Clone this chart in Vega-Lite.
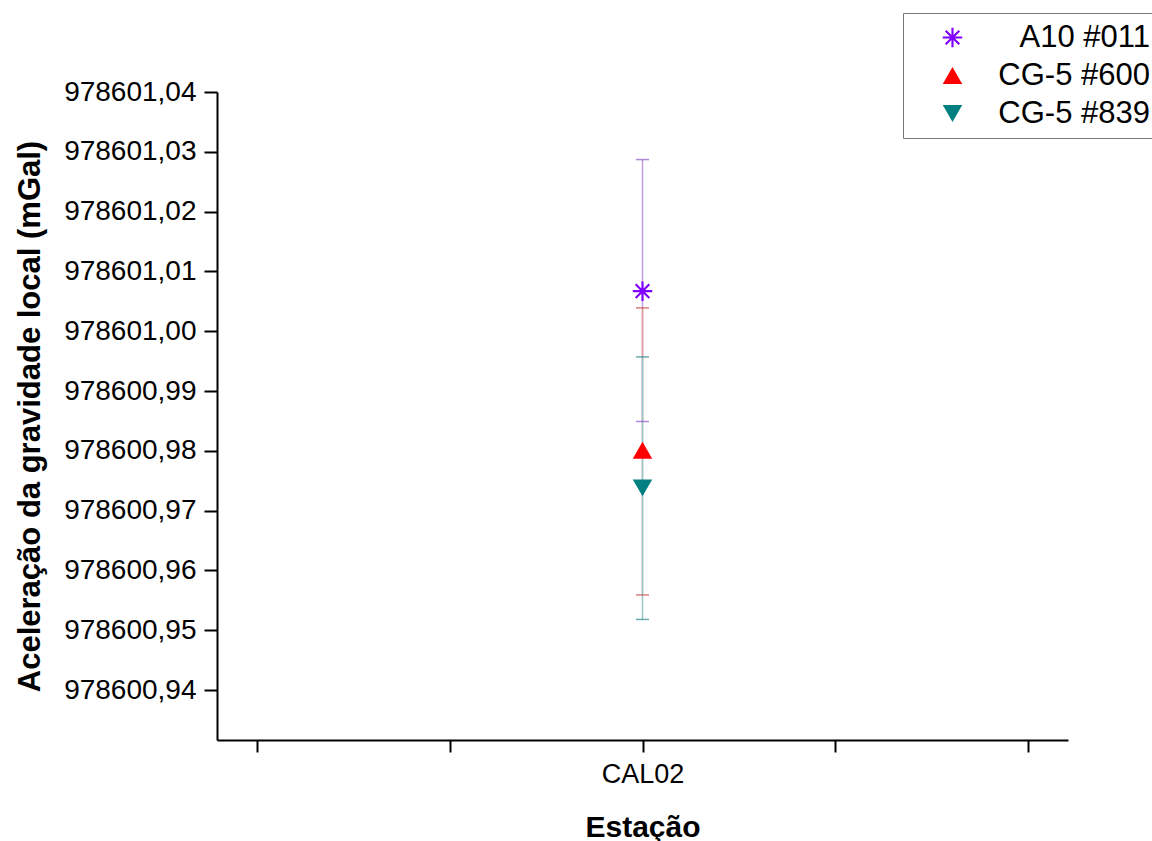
{
  "$schema": "https://vega.github.io/schema/vega-lite/v6.json",
  "width": 851,
  "height": 648,
  "autosize": {"type": "none"},
  "padding": {"left": 217, "top": 92, "right": 84, "bottom": 101},
  "background": "white",
  "config": {
    "view": {"stroke": null},
    "font": "Liberation Sans"
  },
  "data": {
    "values": [
      {"estacao": "CAL02", "instrumento": "A10 #011", "g": 978601.0067, "lo": 978600.9849, "hi": 978601.0287},
      {"estacao": "CAL02", "instrumento": "CG-5 #600", "g": 978600.9801, "lo": 978600.9559, "hi": 978601.0039},
      {"estacao": "CAL02", "instrumento": "CG-5 #839", "g": 978600.9738, "lo": 978600.9518, "hi": 978600.9957}
    ]
  },
  "encoding": {
    "x": {
      "field": "estacao",
      "type": "nominal",
      "scale": {"type": "point", "domain": ["e1", "e2", "CAL02", "e4", "e5"], "padding": 0.21},
      "axis": {
        "title": "Estação",
        "titleFont": "Liberation Sans",
        "titleFontSize": 30,
        "titleFontWeight": "bold",
        "titleColor": "black",
        "titlePadding": 25,
        "labelExpr": "datum.value == 'CAL02' ? 'CAL02' : ''",
        "labelFont": "Liberation Sans",
        "labelFontSize": 27,
        "labelColor": "black",
        "labelPadding": 9,
        "labelAngle": 0,
        "tickSize": 12,
        "tickWidth": 2,
        "tickColor": "black",
        "domainColor": "black",
        "domainWidth": 2,
        "grid": false
      }
    }
  },
  "layer": [
    {
      "mark": {"type": "rule", "strokeWidth": 1.5},
      "encoding": {
        "y": {
          "field": "lo",
          "type": "quantitative",
          "scale": {"domain": [978600.93164, 978601.04], "zero": false, "nice": false},
          "axis": {
            "title": "Aceleração da gravidade local (mGal)",
            "titleFont": "Liberation Sans",
            "titleFontSize": 31,
            "titleFontWeight": "bold",
            "titleColor": "black",
            "titlePadding": 17,
            "values": [978600.94, 978600.945, 978600.95, 978600.955, 978600.96, 978600.965, 978600.97, 978600.975, 978600.98, 978600.985, 978600.99, 978600.995, 978601.0, 978601.005, 978601.01, 978601.015, 978601.02, 978601.025, 978601.03, 978601.035, 978601.04],
            "labelExpr": "abs(datum.value*100 - round(datum.value*100)) < 0.1 ? replace(format(datum.value, '.2f'), '.', ',') : ''",
            "labelFont": "Liberation Sans",
            "labelFontSize": 28,
            "labelColor": "black",
            "labelPadding": 8,
            "tickSize": {"condition": {"test": "abs(datum.value*100 - round(datum.value*100)) < 0.1", "value": 13}, "value": 7},
            "tickWidth": 2,
            "tickColor": "black",
            "domainColor": "black",
            "domainWidth": 2,
            "grid": false
          }
        },
        "y2": {"field": "hi"},
        "stroke": {
          "field": "instrumento",
          "type": "nominal",
          "scale": {"range": ["#bf9fe3", "#e39a9a", "#93c9c9"]},
          "legend": null
        }
      }
    },
    {
      "mark": {"type": "tick", "size": 13, "thickness": 1.5, "orient": "horizontal"},
      "encoding": {
        "y": {"field": "lo", "type": "quantitative"},
        "fill": {
          "field": "instrumento",
          "type": "nominal",
          "scale": {"range": ["#8c55cc", "#c84848", "#2e8686"]},
          "legend": null
        }
      }
    },
    {
      "mark": {"type": "tick", "size": 13, "thickness": 1.5, "orient": "horizontal"},
      "encoding": {
        "y": {"field": "hi", "type": "quantitative"},
        "fill": {
          "field": "instrumento",
          "type": "nominal",
          "legend": null
        }
      }
    },
    {
      "mark": {"type": "point", "filled": true, "opacity": 1, "size": 380},
      "encoding": {
        "y": {"field": "g", "type": "quantitative"},
        "color": {
          "field": "instrumento",
          "type": "nominal",
          "scale": {"domain": ["A10 #011", "CG-5 #600", "CG-5 #839"], "range": ["#8000ff", "#ff0000", "#008080"]},
          "legend": {
            "title": null,
            "orient": "none",
            "legendX": 686,
            "legendY": -79,
            "padding": 9,
            "strokeColor": "#777777",
            "fillColor": "white",
            "labelFont": "Liberation Sans",
            "labelFontSize": 31,
            "labelColor": "black",
            "labelAlign": "right",
            "labelOffset": 182,
            "symbolOffset": 25,
            "symbolSize": 380,
            "symbolStrokeWidth": 0,
            "rowPadding": 6
          }
        },
        "shape": {
          "field": "instrumento",
          "type": "nominal",
          "scale": {"domain": ["A10 #011", "CG-5 #600", "CG-5 #839"], "range": ["M-0.11,-1L0.11,-1L0.11,1L-0.11,1ZM-1,-0.11L1,-0.11L1,0.11L-1,0.11ZM-0.778,-0.622L-0.622,-0.778L0.778,0.622L0.622,0.778ZM-0.778,0.622L0.622,-0.778L0.778,-0.622L-0.622,0.778Z", "triangle-up", "triangle-down"]},
          "legend": {
            "title": null,
            "orient": "none",
            "legendX": 686,
            "legendY": -79,
            "padding": 9,
            "strokeColor": "#777777",
            "fillColor": "white",
            "labelFont": "Liberation Sans",
            "labelFontSize": 31,
            "labelColor": "black",
            "labelAlign": "right",
            "labelOffset": 182,
            "symbolOffset": 25,
            "symbolSize": 380,
            "symbolStrokeWidth": 0,
            "rowPadding": 6
          }
        }
      }
    }
  ]
}
